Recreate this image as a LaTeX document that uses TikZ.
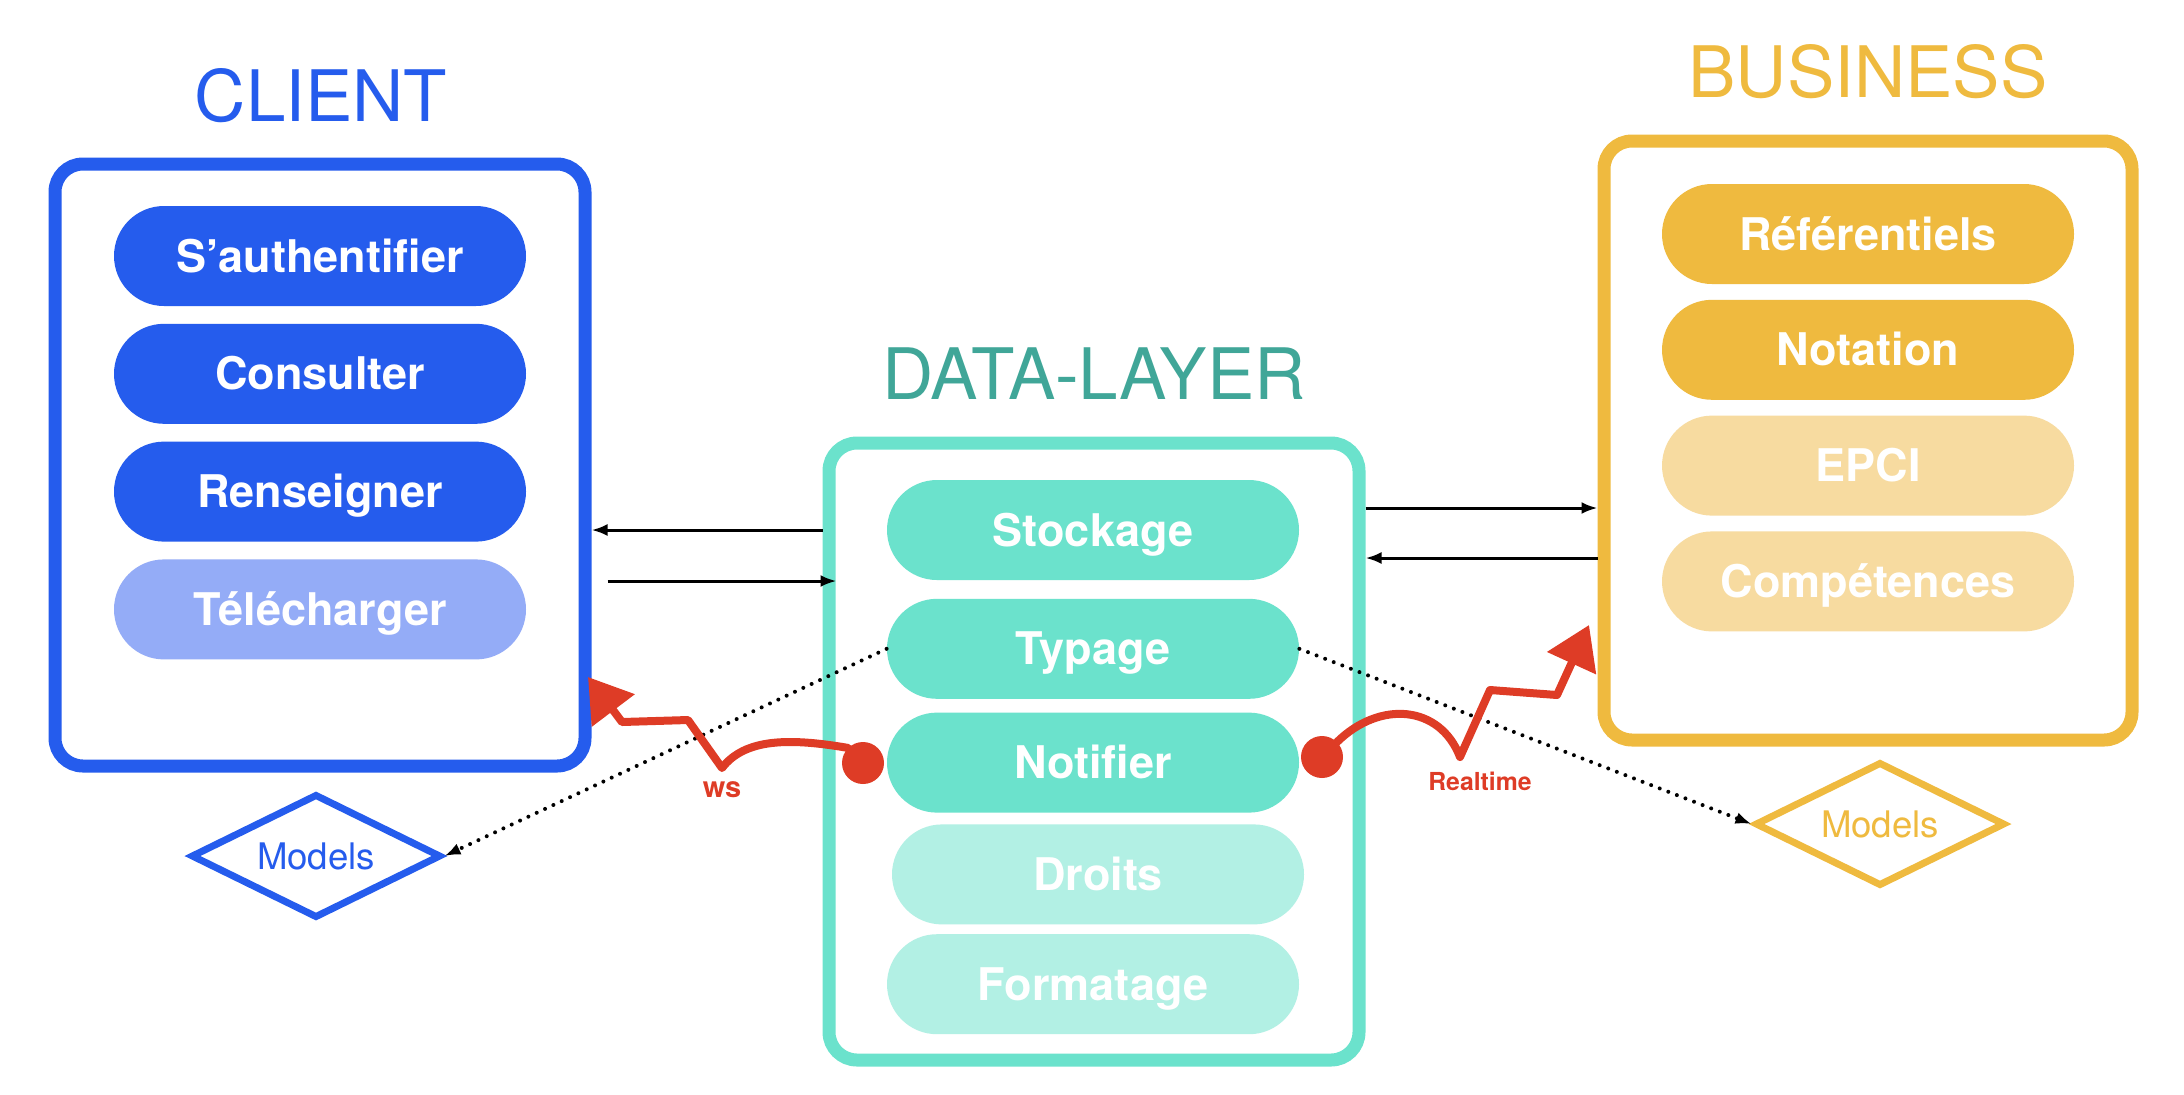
\documentclass[tikz,border=0pt]{standalone}
\usepackage{fontspec}
\setmainfont{TeX Gyre Heros}
\usetikzlibrary{positioning, shapes.geometric, arrows.meta}

\definecolor{clientblue}{RGB}{37,92,237}
\definecolor{clientpale}{RGB}{148,172,247}
\definecolor{datateal}{RGB}{107,226,204}
\definecolor{datapale}{RGB}{178,240,228}
\definecolor{datatitle}{RGB}{64,166,152}
\definecolor{bizyellow}{RGB}{239,186,63}
\definecolor{bizpale}{RGB}{247,219,160}
\definecolor{wsred}{RGB}{222,60,38}

\begin{document}
\begin{tikzpicture}[x=0.5pt,y=-0.5pt,
    pill/.style={rectangle,rounded corners=25pt,minimum width=206pt,minimum height=50pt,
      inner sep=0pt,text=white,text height=16pt,text depth=0pt,
      font=\fontsize{22.5}{24}\selectfont\bfseries},
    layer/.style={rectangle,rounded corners=14pt,line width=6.5pt,fill=white,inner sep=0pt},
    title/.style={font=\fontsize{35.5}{40}\selectfont},
    model/.style={diamond,aspect=2,line width=3.5pt,minimum width=125pt,minimum height=62pt,
      inner sep=0pt,fill=white,font=\fontsize{18.3}{20}\selectfont},
    dot/.style={circle,fill=wsred,minimum size=21pt,inner sep=0pt},
    sketch/.style={wsred,line width=4pt,line cap=round,line join=round,
      -{Triangle[length=21pt,width=26pt]}},
    link/.style={line width=1.5pt,-{Latex[length=8pt,width=6pt]}},
    peek/.style={line width=2pt,dash pattern=on 0pt off 4.6pt,line cap=round,
      -{Latex[length=8pt,width=6pt]}}]

    \useasboundingbox (0,0) rectangle (2184,1094);

    \node(clientbox)[layer,draw=clientblue,minimum width=265pt,minimum height=301pt] at (320,465){};
    \node(databox)[layer,draw=datateal,minimum width=265pt,minimum height=308.5pt] at (1094,751.5){};
    \node(bizbox)[layer,draw=bizyellow,minimum width=264pt,minimum height=299.5pt] at (1868,440.5){};

    \node(client)[title,text=clientblue] at (321,96){CLIENT};
    \node(datalayer)[title,text=datatitle] at (1094,374){DATA-LAYER};
    \node(business)[title,text=bizyellow] at (1868,72){BUSINESS};

    \node(sauth)[pill,fill=clientblue] at (320,256){S’authentifier};
    \node(consulter)[pill,fill=clientblue,below=8.5pt of sauth]{Consulter};
    \node(renseigner)[pill,fill=clientblue,below=8.5pt of consulter]{Renseigner};
    \node(telecharger)[pill,fill=clientpale,below=8.5pt of renseigner]{Télécharger};

    \node(stockage)[pill,fill=datateal] at (1093,530){Stockage};
    \node(typage)[pill,fill=datateal,below=9pt of stockage]{Typage};
    \node(notifier)[pill,fill=datateal,below=6.5pt of typage]{Notifier};
    \node(droits)[pill,fill=datapale,below=5.5pt of notifier,xshift=2.5pt]{Droits};
    \node(formatage)[pill,fill=datapale,below=4.5pt of droits,xshift=-2.5pt]{Formatage};

    \node(referentiels)[pill,fill=bizyellow] at (1868,234){Référentiels};
    \node(notation)[pill,fill=bizyellow,below=7.5pt of referentiels]{Notation};
    \node(epci)[pill,fill=bizpale,below=7.5pt of notation]{EPCI};
    \node(competences)[pill,fill=bizpale,below=7.5pt of epci]{Compétences};

    \node(cmodels)[model,draw=clientblue,text=clientblue] at (316,856){Models};
    \node(bmodels)[model,draw=bizyellow,text=bizyellow] at (1880,824){Models};

    \coordinate(c_in) at (clientbox.east |- stockage);
    \coordinate(d_in) at (databox.west |- stockage);
    \coordinate(d_out) at (databox.east |- stockage);
    \coordinate(b_in) at (bizbox.west |- stockage);

    \draw[link] (d_in) -- (c_in);
    \draw[link] ([xshift=8pt,yshift=-25.5pt]c_in) -- ([xshift=7pt,yshift=-25.5pt]d_in);
    \draw[link] ([yshift=11pt]d_out) -- ([yshift=11pt]b_in);
    \draw[link] ([yshift=-14pt]b_in) -- ([yshift=-14pt]d_out);

    \draw[peek] (typage.west) -- (cmodels.east);
    \draw[peek] (typage.east) -- (bmodels.west);

    \node(wsdot)[dot] at (863,763){};
    \node(rtdot)[dot] at (1322,757){};
    \coordinate(wstip) at (588,677);
    \coordinate(rttip) at (1589,625);

    \draw[sketch] (wsdot.north west) .. controls (790,738) and (745,738) .. (722,768)
      -- (688,720) -- (622,722) -- (wstip);
    \draw[sketch] (rtdot.north east) .. controls (1380,700) and (1440,705) .. (1460,757)
      -- (1490,690) -- (1557,695) -- (rttip);

    \node(ws)[text=wsred,font=\fontsize{14.5}{16}\selectfont\bfseries] at (722,790){ws};
    \node(realtime)[text=wsred,font=\fontsize{12.4}{14}\selectfont\bfseries] at (1480,781){Realtime};
  \end{tikzpicture}
\end{document}
